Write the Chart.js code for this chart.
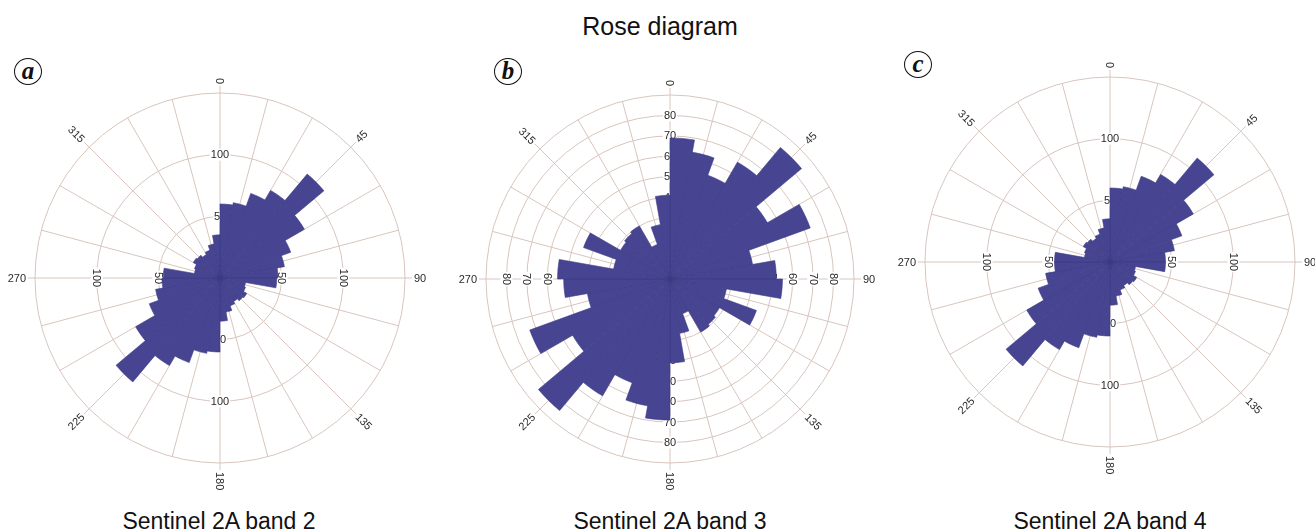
<!DOCTYPE html>
<html>
<head>
<meta charset="utf-8">
<script src="https://cdn.jsdelivr.net/npm/chart.js@4.4.0/dist/chart.umd.min.js"></script>
<style>
  html, body { margin: 0; padding: 0; background: #fff; }
  #wrap { position: relative; width: 1315px; height: 532px; overflow: hidden; background: #fff; font-family: "Liberation Sans", Arial, sans-serif; }
  canvas.rose { position: absolute; }
  .title { position: absolute; left: 0; width: 1320px; top: 12px; text-align: center; font-size: 25px; color: #111; }
  .sub { position: absolute; width: 320px; text-align: center; font-size: 23px; color: #111; top: 508px; }
  .tag { position: absolute; width: 28px; height: 27px; border: 1.6px solid #111; border-radius: 50%; font-family: "Liberation Serif", "DejaVu Serif", serif; font-style: italic; font-weight: bold; font-size: 25px; line-height: 24px; text-align: center; color: #111; box-sizing: border-box; }
</style>
</head>
<body>
<div id="wrap">
  <div class="title">Rose diagram</div>
  <div class="tag" style="left:14px; top:58px;">a</div>
  <div class="tag" style="left:494px; top:58px;">b</div>
  <div class="tag" style="left:904px; top:51px;">c</div>
  <canvas class="rose" id="ca" width="440" height="440" style="left:0px; top:58px;"></canvas>
  <canvas class="rose" id="cb" width="440" height="440" style="left:450px; top:59px;"></canvas>
  <canvas class="rose" id="cc" width="440" height="440" style="left:890px; top:42px;"></canvas>
  <div class="sub" style="left:59px;">Sentinel 2A band 2</div>
  <div class="sub" style="left:510px;">Sentinel 2A band 3</div>
  <div class="sub" style="left:950px;">Sentinel 2A band 4</div>
</div>
<script>
// ---- data ----
const sectors = ['0','10','20','30','40','50','60','70','80','90','100','110','120','130','140','150','160','170',
                 '180','190','200','210','220','230','240','250','260','270','280','290','300','310','320','330','340','350'];
const band2 = [60, 62, 73, 82, 110, 79, 61, 53, 47, 46, 21, 22, 25, 24, 22, 24, 28, 35,
               60, 62, 73, 82, 110, 79, 61, 53, 47, 46, 21, 22, 25, 24, 22, 24, 28, 35];
const band3 = [69, 63, 54, 66, 84, 55, 73, 41, 52, 55, 28, 45, 28, 29, 30, 18, 27, 41,
               69, 63, 54, 66, 84, 55, 73, 41, 52, 55, 28, 45, 28, 29, 30, 18, 27, 41];
const band4 = [60, 62, 74, 82, 110, 78, 62, 53, 45, 45, 21, 22, 25, 24, 22, 24, 28, 35,
               60, 62, 74, 82, 110, 78, 62, 53, 45, 45, 21, 22, 25, 24, 22, 24, 28, 35];
const ticks2 = [50, 100];
const ticks3 = [10, 20, 30, 40, 50, 60, 70, 80];
const ticks4 = [50, 100];
const directionLabels = ['0', '45', '90', '135', '180', '225', '270', '315'];
const spokeDegrees = [0, 15, 30, 45, 60, 75, 90, 105, 120, 135, 150, 165, 180, 195, 210, 225, 240, 255, 270, 285, 300, 315, 330, 345];

const barColor = '#474591';
const barBorder = '#3b3984';
const gridColor = '#d8c5bd';
const textColor = '#2a2a2a';
const labelFont = '11px "Liberation Sans", Arial, sans-serif';

const roseDecor = {
  id: 'roseDecor',
  beforeDatasetsDraw(chart, args, opts) {
    const s = chart.scales.r;
    const ctx = chart.ctx;
    const cx = s.xCenter, cy = s.yCenter, R = s.drawingArea;
    ctx.save();
    ctx.strokeStyle = gridColor;
    ctx.lineWidth = 1;
    spokeDegrees.forEach(deg => {
      const a = (deg - 90) * Math.PI / 180;
      const ext = deg % 45 === 0 ? 7 : 0;
      ctx.beginPath();
      ctx.moveTo(cx, cy);
      ctx.lineTo(cx + Math.cos(a) * (R + ext), cy + Math.sin(a) * (R + ext));
      ctx.stroke();
    });
    ctx.font = labelFont;
    ctx.textAlign = 'center';
    ctx.textBaseline = 'middle';
    opts.tickValues.forEach(v => {
      const d = s.getDistanceFromCenterForValue(v);
      const txt = String(v);
      const w = ctx.measureText(txt).width;
      [[0, -1, 0], [1, 0, 90], [0, 1, 0], [-1, 0, 90]].forEach(([dx, dy, rot]) => {
        ctx.save();
        ctx.translate(cx + dx * d, cy + dy * d);
        ctx.rotate(rot * Math.PI / 180);
        ctx.fillStyle = '#fff';
        ctx.fillRect(-w / 2 - 1, -6, w + 2, 12);
        ctx.fillStyle = textColor;
        ctx.fillText(txt, 0, 0.5);
        ctx.restore();
      });
    });
    ctx.restore();
  },
  afterDatasetsDraw(chart) {
    const s = chart.scales.r;
    const ctx = chart.ctx;
    const cx = s.xCenter, cy = s.yCenter, R = s.drawingArea;
    ctx.save();
    ctx.font = labelFont;
    ctx.fillStyle = textColor;
    ctx.textAlign = 'center';
    ctx.textBaseline = 'middle';
    directionLabels.forEach(lbl => {
      const deg = Number(lbl);
      const a = (deg - 90) * Math.PI / 180;
      const w = ctx.measureText(lbl).width;
      const dist = R + 9 + w / 2;
      let rot = deg - 90;
      if (rot > 90) rot -= 180;
      if (rot <= -90) rot += 180;
      ctx.save();
      ctx.translate(cx + Math.cos(a) * dist, cy + Math.sin(a) * dist);
      ctx.rotate(rot * Math.PI / 180);
      ctx.fillText(lbl, 0, 0.5);
      ctx.restore();
    });
    ctx.restore();
  }
};

function makeRose(id, values, maxVal, step, tickValues, pad) {
  new Chart(document.getElementById(id), {
    type: 'polarArea',
    data: {
      labels: sectors,
      datasets: [{
        data: values,
        backgroundColor: barColor,
        borderColor: barBorder,
        borderWidth: 0.6
      }]
    },
    options: {
      responsive: false,
      animation: false,
      layout: { padding: pad },
      plugins: {
        legend: { display: false },
        tooltip: { enabled: false },
        roseDecor: { tickValues: tickValues }
      },
      scales: {
        r: {
          min: 0,
          max: maxVal,
          startAngle: 0,
          ticks: { stepSize: step, display: false },
          grid: { circular: true, color: gridColor, lineWidth: 1 },
          angleLines: { display: false },
          pointLabels: { display: false }
        }
      }
    },
    plugins: [roseDecor]
  });
}

makeRose('ca', band2, 150, 50, ticks2, 35);
makeRose('cb', band3, 90, 10, ticks3, 36);
makeRose('cc', band4, 150, 50, ticks4, 35);
</script>
</body>
</html>
